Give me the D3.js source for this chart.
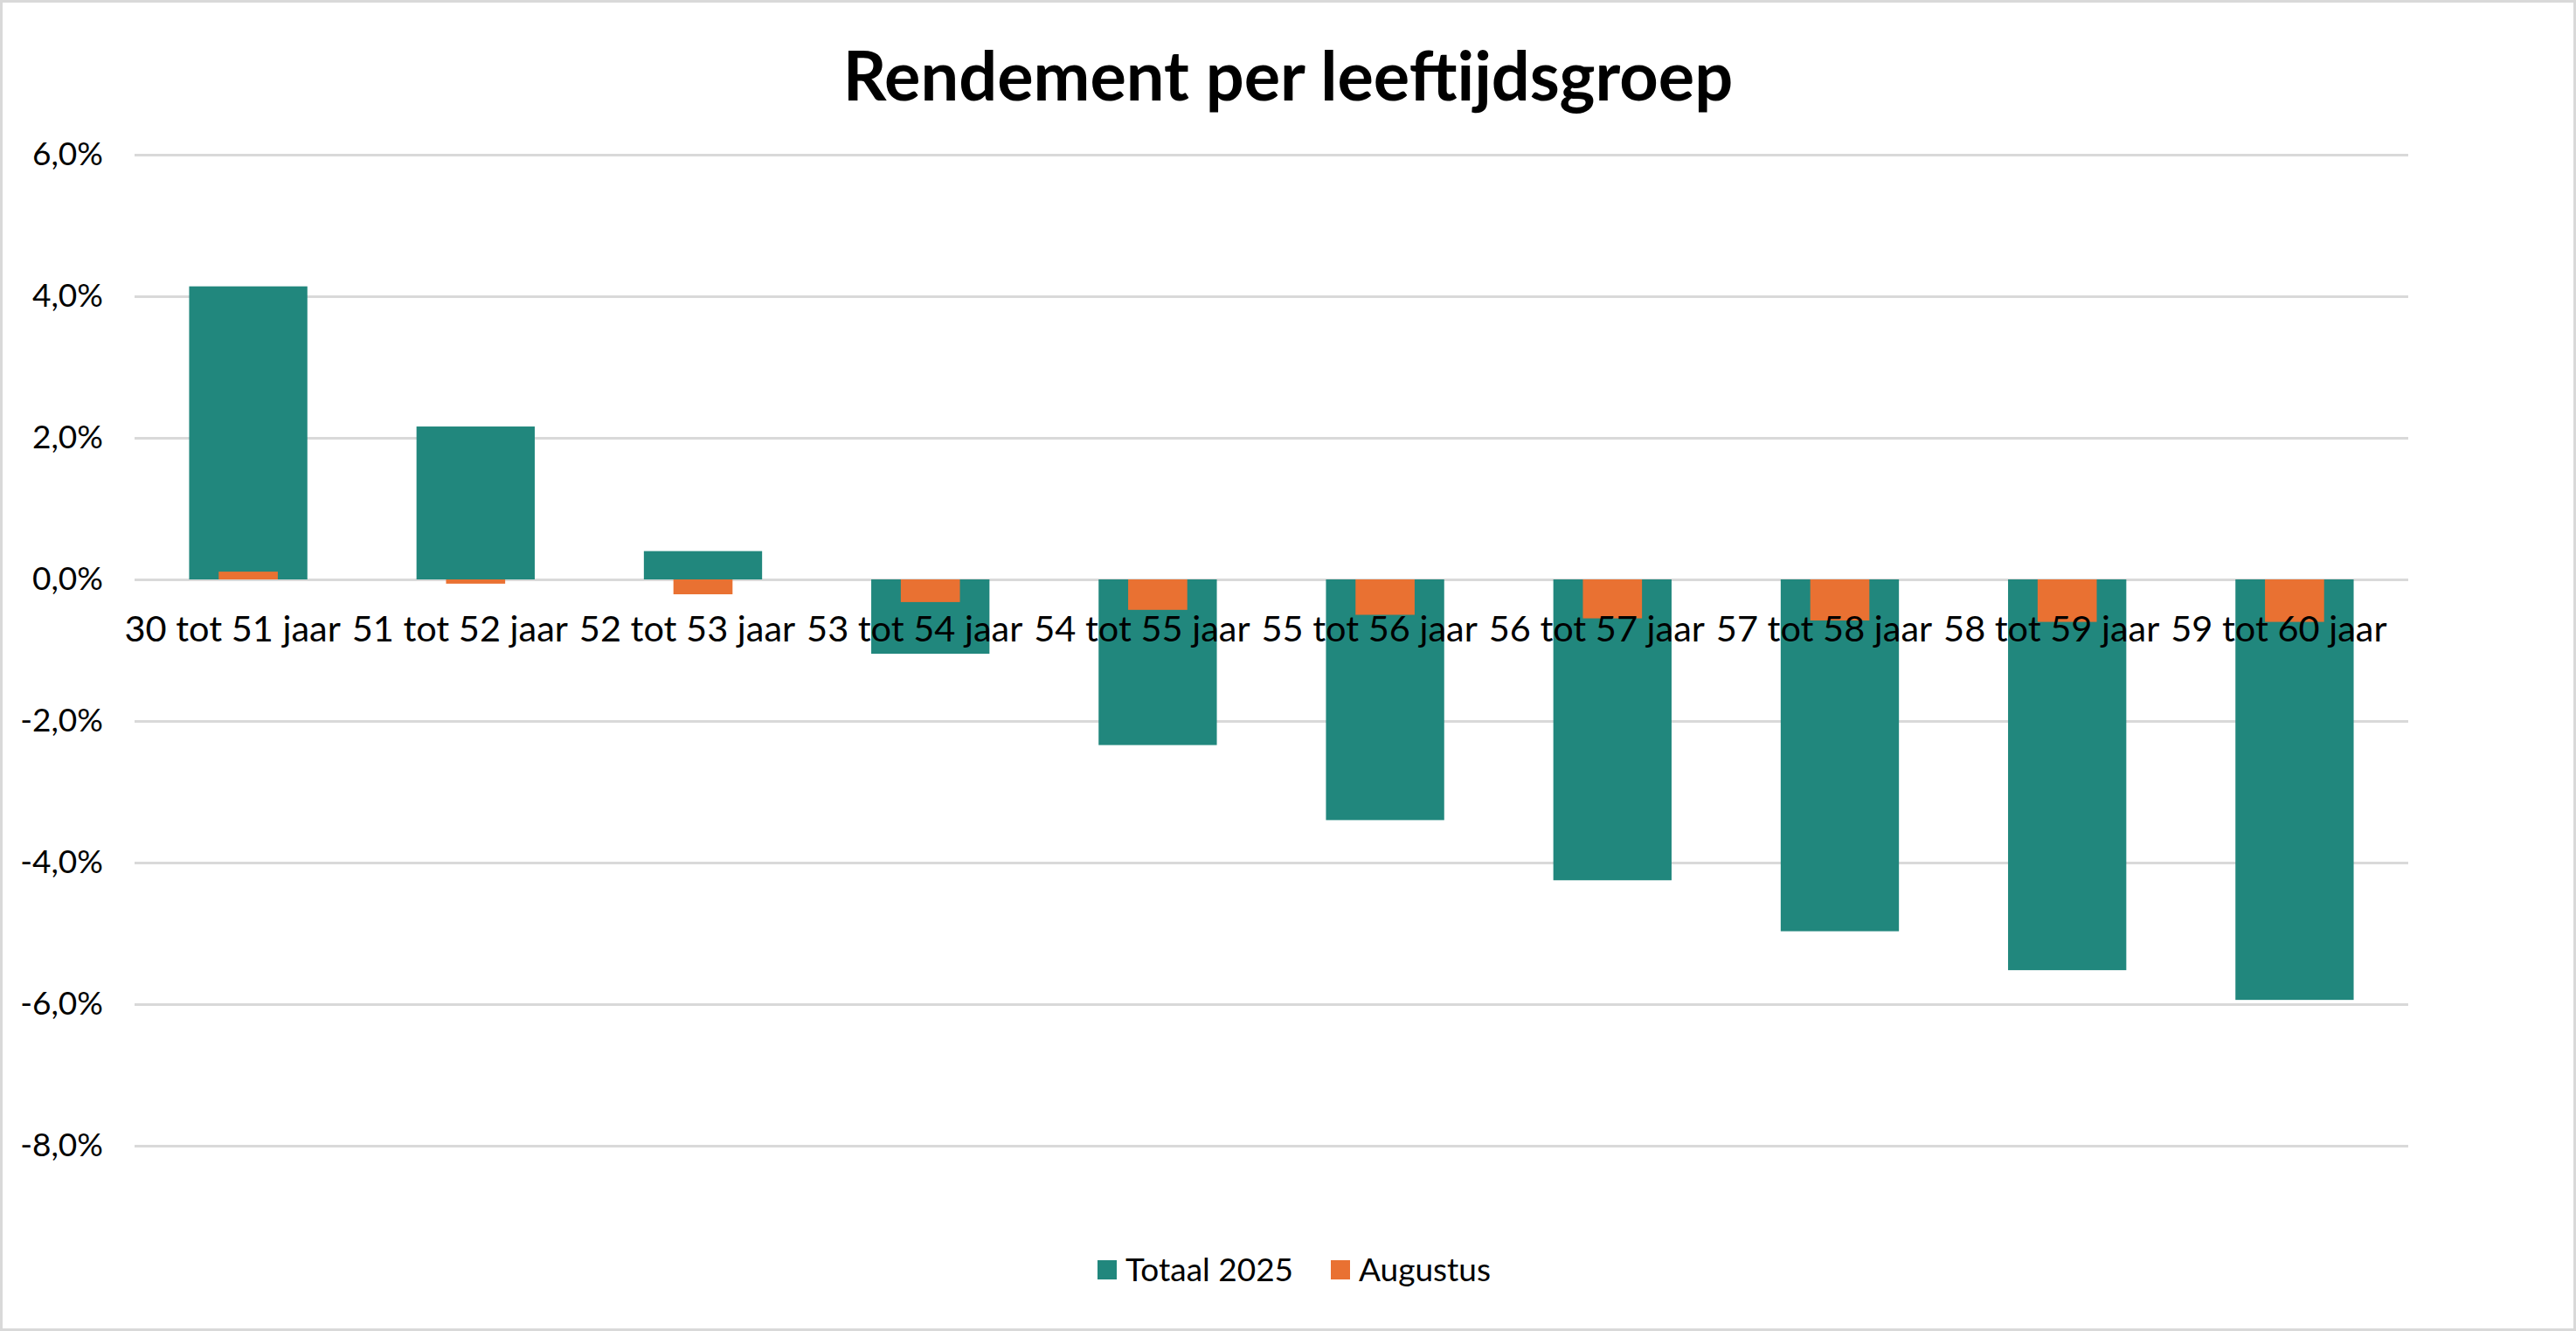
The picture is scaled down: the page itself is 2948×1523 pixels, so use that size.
<!DOCTYPE html>
<html>
<head>
<meta charset="utf-8">
<script src="https://cdn.jsdelivr.net/npm/d3@7"></script>
<style>
  body { margin: 0; background: #fff; }
  svg { display: block; }
  text { font-family: Lato, "Open Sans", sans-serif; }
</style>
</head>
<body>
<script>
// leeftijdsgroepen en rendementen (in %)
var groepen = ["30 tot 51 jaar", "51 tot 52 jaar", "52 tot 53 jaar", "53 tot 54 jaar", "54 tot 55 jaar",
               "55 tot 56 jaar", "56 tot 57 jaar", "57 tot 58 jaar", "58 tot 59 jaar", "59 tot 60 jaar"];
var totaal2025 = [4.14, 2.16, 0.40, -1.05, -2.34, -3.40, -4.25, -4.97, -5.52, -5.94];
var augustus = [0.11, -0.06, -0.21, -0.32, -0.43, -0.50, -0.55, -0.58, -0.60, -0.60];
var yTicks = [6, 4, 2, 0, -2, -4, -6, -8];
var reeksen = ["Totaal 2025", "Augustus"];
var kleuren = ["#21877d", "#e97132"];

function tekenen () {

    var width = 2948,
        height = 1523;

    var svg = d3.select("body")
        .append("svg")
        .attr("width", width)
        .attr("height", height);

    // rand om de grafiek
    svg.append("rect")
        .attr("x", 1.5).attr("y", 1.5)
        .attr("width", width - 3).attr("height", height - 3)
        .attr("fill", "#fff")
        .attr("stroke", "#d9d9d9")
        .attr("stroke-width", 3);

    var left = 154, right = 2756, top = 177, bottom = 1311;

    var x = d3.scaleBand()
        .domain(groepen)
        .range([left, right])
        .paddingInner(0.48)
        .paddingOuter(0.24);

    var y = d3.scaleLinear()
        .domain([-8, 6])
        .range([bottom, top]);

    var fmt = function(v) { return d3.format(".1f")(v).replace(".", ",").replace("−", "-") + "%"; };

    // rasterlijnen + y labels
    var yAxis = d3.axisLeft(y)
        .tickValues(yTicks)
        .tickSize(-(right - left))
        .tickPadding(36)
        .tickFormat(fmt);

    var gy = svg.append("g")
        .attr("transform", "translate(" + left + ",0)")
        .call(yAxis)
        .attr("font-family", null);
    gy.select(".domain").remove();
    gy.selectAll(".tick line")
        .attr("stroke", "#d9d9d9")
        .attr("stroke-width", 3);
    gy.selectAll(".tick text")
        .attr("font-size", 37)
        .attr("fill", "#000");

    // staven totaal
    svg.append("g").selectAll("rect")
        .data(totaal2025)
        .enter()
        .append("rect")
        .attr("x", function(d, i) { return x(groepen[i]); })
        .attr("width", x.bandwidth())
        .attr("y", function(d) { return y(Math.max(0, d)); })
        .attr("height", function(d) { return Math.abs(y(d) - y(0)); })
        .attr("fill", kleuren[0]);

    // staven augustus (smaller, over de totaal-staaf)
    var smal = x.bandwidth() / 2;
    svg.append("g").selectAll("rect")
        .data(augustus)
        .enter()
        .append("rect")
        .attr("x", function(d, i) { return x(groepen[i]) + (x.bandwidth() - smal) / 2; })
        .attr("width", smal)
        .attr("y", function(d) { return y(Math.max(0, d)); })
        .attr("height", function(d) { return Math.abs(y(d) - y(0)); })
        .attr("fill", kleuren[1]);

    // x labels direct onder de nullijn
    var xAxis = d3.axisBottom(x).tickSize(0).tickPadding(42);
    var gx = svg.append("g")
        .attr("transform", "translate(0," + y(0) + ")")
        .call(xAxis)
        .attr("font-family", null);
    gx.select(".domain").remove();
    gx.selectAll(".tick text")
        .attr("font-size", 41.5)
        .attr("dx", -18)
        .attr("fill", "#000");

    // titel
    svg.append("text")
        .attr("x", width / 2)
        .attr("y", 115)
        .attr("text-anchor", "middle")
        .attr("font-size", 77.5)
        .attr("font-weight", "bold")
        .text("Rendement per leeftijdsgroep");

    // legenda
    var legend = svg.append("g");
    var lx = [1256, 1523];
    reeksen.forEach(function(r, i) {
        legend.append("rect")
            .attr("x", lx[i]).attr("y", 1442)
            .attr("width", 22).attr("height", 22)
            .attr("fill", kleuren[i]);
        legend.append("text")
            .attr("x", lx[i] + 32).attr("y", 1466)
            .attr("font-size", 37)
            .text(r);
    });
}

window.onload = tekenen;
</script>
</body>
</html>
